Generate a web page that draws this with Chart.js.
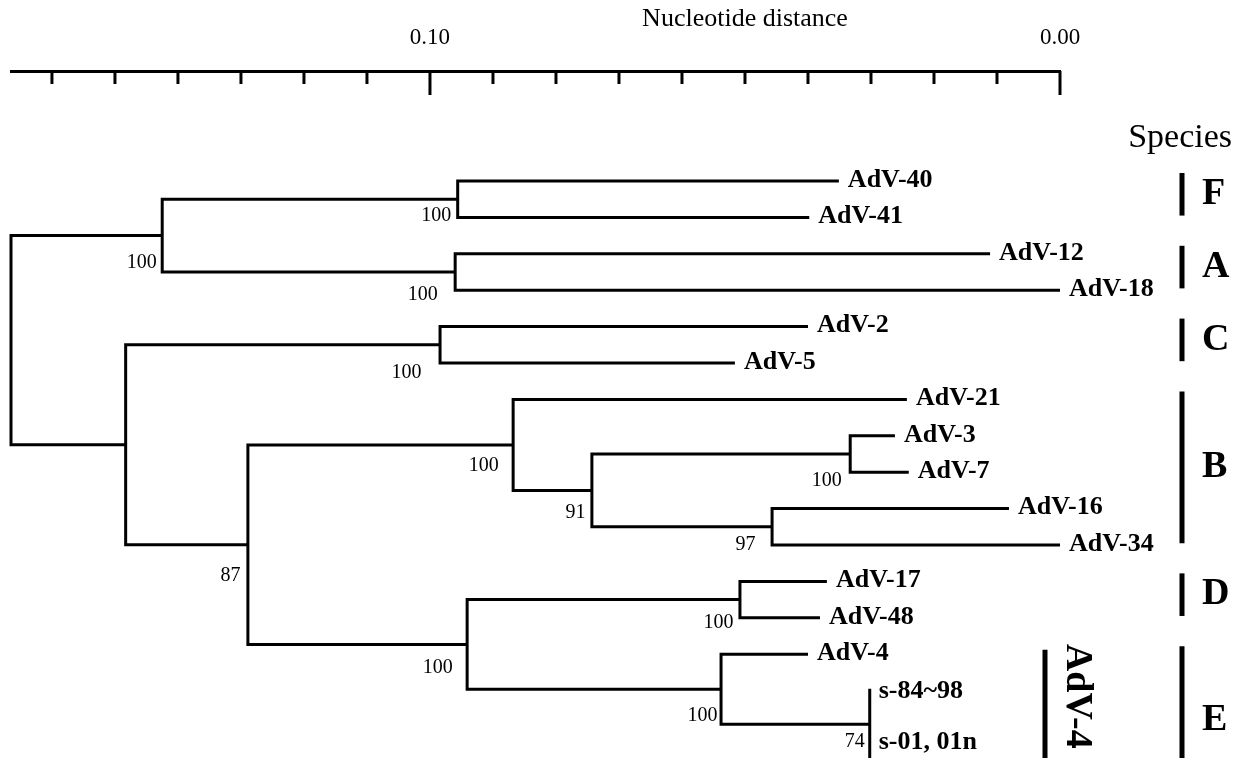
<!DOCTYPE html>
<html>
<head>
<meta charset="utf-8">
<script src="https://cdn.jsdelivr.net/npm/chart.js@4.4.0/dist/chart.umd.min.js"></script>
<style>
  html, body { margin: 0; padding: 0; background: #fff; }
  #wrap { width: 1240px; height: 758px; position: relative; }
</style>
</head>
<body>
<div id="wrap"><canvas id="treeChart"></canvas></div>
<script>
// Adenovirus tree, nucleotide distance

// Tips: name, row (top to bottom) and distance where the branch ends
const tipNames = ['AdV-40', 'AdV-41', 'AdV-12', 'AdV-18', 'AdV-2', 'AdV-5', 'AdV-21', 'AdV-3',
    'AdV-7', 'AdV-16', 'AdV-34', 'AdV-17', 'AdV-48', 'AdV-4', 's-84~98', 's-01, 01n'];
const tipRows = [0, 1, 2, 3, 4, 5, 6, 7, 8, 9, 10, 11, 12, 13, 13.95, 15.9];
const tipDistance = [0.0351, 0.0398, 0.0111, 0.0000, 0.0400, 0.0516, 0.0243, 0.0262,
    0.0240, 0.0081, 0.0000, 0.0370, 0.0381, 0.0400, 0.0302, 0.0302];

// Internal nodes (parents listed before their children)
const nodeNames = ['root', 'FA', 'F', 'A', 'CBDE', 'C', 'BDE', 'B', 'B2', 'B37', 'B1634', 'DE', 'D', 'E', 'S'];
const nodeChildren = [
    ['FA', 'CBDE'], ['F', 'A'], ['AdV-40', 'AdV-41'], ['AdV-12', 'AdV-18'],
    ['C', 'BDE'], ['AdV-2', 'AdV-5'], ['B', 'DE'], ['AdV-21', 'B2'], ['B37', 'B1634'],
    ['AdV-3', 'AdV-7'], ['AdV-16', 'AdV-34'], ['D', 'E'], ['AdV-17', 'AdV-48'],
    ['AdV-4', 'S'], ['s-84~98', 's-01, 01n']
];
const nodeDistance = [0.1665, 0.1425, 0.0956, 0.0960, 0.1483, 0.0984, 0.1289, 0.0868, 0.0743,
    0.0333, 0.0457, 0.0941, 0.0508, 0.0538, 0.0302];
const nodeBootstrap = [null, 100, 100, 100, null, 100, 87, 100, 91, 100, 97, 100, 100, 100, 74];

// Species groups: first and last tip row
const speciesNames = ['F', 'A', 'C', 'B', 'D', 'E'];
const speciesFirstRow = [0, 2, 4, 6, 11, 13];
const speciesLastRow = [1, 3, 5, 10, 12, 16.9];

// Axis
const axisMax = 0.1665;
const axisStep = 0.01;
const axisLabelValues = [0.10, 0.00];

// layout tweaks for the little bootstrap numbers (px, relative to node)
const bootDx = [0, -5.5, -6.5, -17.5, 0, -18.5, -7.5, -14.5, -6.5, -8.5, -16.5, -14.5, -6.5, -3.5, -5];
const bootDy = [0, -9, -2, 5, 0, 10, -69, -25, -14, 9, 0, -21, 5, -9, -18];
const tipLabelDy = {'s-84~98': 4, 's-01, 01n': -16};

const SERIF = "'Liberation Serif', 'Times New Roman', serif";

// work out node rows from their children
const pos = {};
tipNames.forEach((n, i) => { pos[n] = {d: tipDistance[i], r: tipRows[i]}; });
for (let i = nodeNames.length - 1; i >= 0; i--) {
    const a = pos[nodeChildren[i][0]];
    const b = pos[nodeChildren[i][1]];
    pos[nodeNames[i]] = {d: nodeDistance[i], r: (a.r + b.r) / 2, top: a.r, bottom: b.r};
}

// one bracket-shaped line per node
const datasets = nodeNames.map((n, i) => {
    const p = pos[n];
    const a = pos[nodeChildren[i][0]];
    const b = pos[nodeChildren[i][1]];
    return {
        label: n,
        data: [{x: a.d, y: a.r}, {x: p.d, y: a.r}, {x: p.d, y: b.r}, {x: b.d, y: b.r}],
        showLine: true,
        borderColor: '#000',
        borderWidth: 3,
        borderJoinStyle: 'miter',
        pointRadius: 0,
        fill: false,
        tension: 0,
        clip: false
    };
});

const treeText = {
    id: 'treeText',
    afterDatasetsDraw(chart) {
        const ctx = chart.ctx;
        const xs = chart.scales.x;
        const ys = chart.scales.y;
        const area = chart.chartArea;
        ctx.save();
        ctx.fillStyle = '#000';
        ctx.strokeStyle = '#000';

        // tick marks hang down from the axis line
        ctx.lineWidth = 3;
        xs.ticks.forEach(t => {
            const px = xs.getPixelForValue(t.value);
            const major = axisLabelValues.some(v => Math.abs(v - t.value) < 1e-9);
            ctx.beginPath();
            ctx.moveTo(px, xs.bottom);
            ctx.lineTo(px, xs.bottom + (major ? 24 : 13));
            ctx.stroke();
        });

        ctx.font = '26px ' + SERIF;
        ctx.textAlign = 'center';
        ctx.textBaseline = 'middle';
        ctx.fillText('Nucleotide distance', xs.getPixelForValue(0.05), 19);

        // tip labels
        ctx.font = 'bold 26px ' + SERIF;
        ctx.textAlign = 'left';
        tipNames.forEach((n, i) => {
            const x = xs.getPixelForValue(tipDistance[i]) + 9;
            const y = ys.getPixelForValue(tipRows[i]) - 1 + (tipLabelDy[n] || 0);
            ctx.fillText(n, x, y);
        });

        // bootstrap values
        ctx.font = '20px ' + SERIF;
        ctx.textAlign = 'right';
        nodeNames.forEach((n, i) => {
            if (nodeBootstrap[i] == null) return;
            const x = xs.getPixelForValue(nodeDistance[i]) + bootDx[i];
            const y = ys.getPixelForValue(pos[n].bottom) + bootDy[i];
            ctx.fillText(String(nodeBootstrap[i]), x, y);
        });

        // species bars
        const barX = area.right + 122;
        ctx.lineWidth = 5;
        ctx.font = 'bold 38px ' + SERIF;
        ctx.textAlign = 'left';
        speciesNames.forEach((s, i) => {
            const y1 = ys.getPixelForValue(speciesFirstRow[i] - 0.22);
            const y2 = ys.getPixelForValue(speciesLastRow[i] - 0.05);
            ctx.beginPath();
            ctx.moveTo(barX, y1);
            ctx.lineTo(barX, y2);
            ctx.stroke();
            ctx.fillText(s, barX + 20, (y1 + y2) / 2);
        });

        // AdV-4 strain bar with rotated label
        const adv4X = area.right - 15;
        const adv4Top = ys.getPixelForValue(speciesFirstRow[5] - 0.12);
        ctx.beginPath();
        ctx.moveTo(adv4X, adv4Top);
        ctx.lineTo(adv4X, area.bottom + 20);
        ctx.stroke();
        ctx.save();
        ctx.translate(adv4X + 22, adv4Top - 6);
        ctx.rotate(Math.PI / 2);
        ctx.textBaseline = 'alphabetic';
        ctx.fillText('AdV-4', 0, 0);
        ctx.restore();

        ctx.font = '34px ' + SERIF;
        ctx.textAlign = 'right';
        ctx.textBaseline = 'alphabetic';
        ctx.fillText('Species', 1232, 147);
        ctx.restore();
    }
};

new Chart(document.getElementById('treeChart').getContext('2d'), {
    type: 'scatter',
    data: { datasets: datasets },
    options: {
        responsive: true,
        maintainAspectRatio: false,
        animation: false,
        layout: { padding: { left: 11, right: 180, top: 5.4, bottom: 0 } },
        scales: {
            x: {
                type: 'linear',
                position: 'top',
                reverse: true,
                min: 0,
                max: axisMax,
                grid: { display: false, drawTicks: false },
                border: { display: true, color: '#000', width: 3 },
                ticks: {
                    stepSize: axisStep,
                    includeBounds: false,
                    autoSkip: false,
                    maxRotation: 0,
                    padding: 19,
                    color: '#000',
                    font: { family: SERIF, size: 23 },
                    callback: (v) => axisLabelValues.some(a => Math.abs(a - v) < 1e-9) ? v.toFixed(2) : ''
                }
            },
            y: {
                type: 'linear',
                display: false,
                reverse: true,
                min: -3.022,
                max: 15.852
            }
        },
        plugins: {
            legend: { display: false },
            tooltip: { enabled: false }
        }
    },
    plugins: [treeText]
});
</script>
</body>
</html>
